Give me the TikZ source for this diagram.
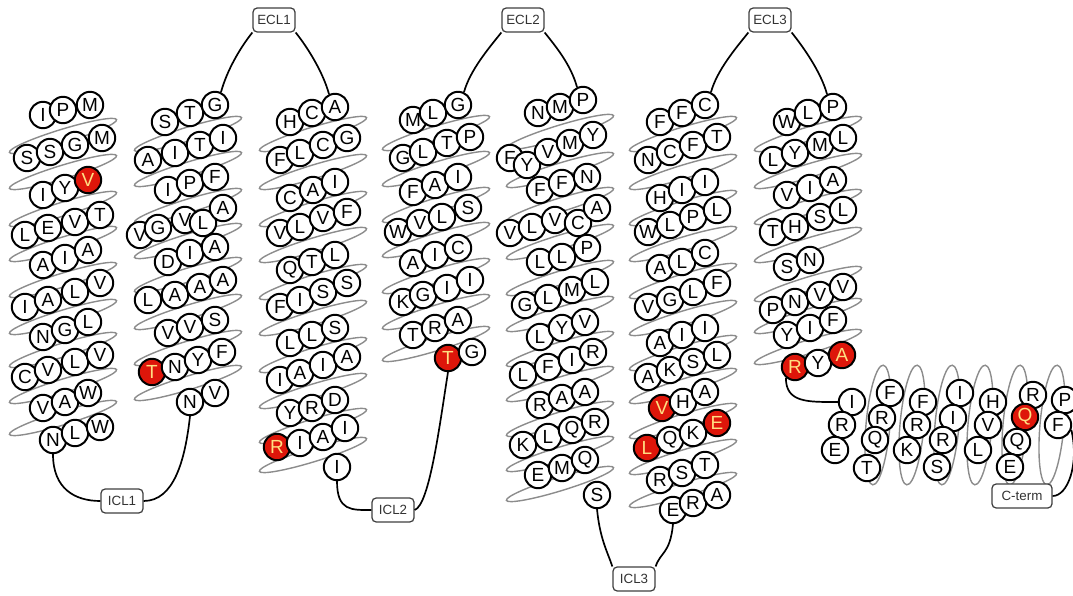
\documentclass[tikz,border=0pt]{standalone}
\usepackage{fontspec}
\setmainfont{Liberation Sans}
\usepackage{tikz}
\definecolor{hitred}{RGB}{222,22,10}
\definecolor{hittext}{RGB}{255,222,130}
\newcommand{\resfont}{\fontsize{13.5}{13.5}\selectfont}
\newcommand{\loopfont}{\fontsize{9.5}{9.5}\selectfont}

\begin{document}
\begin{tikzpicture}[x=0.025cm, y=-0.025cm,
        res/.style={circle, draw, line width=1.4pt, fill=white, minimum size=0.66cm, inner sep=0pt, font=\resfont},
        hit/.style={res, fill=hitred, text=hittext},
        turn/.style={draw=black!45, line width=1pt, x radius=1.4cm, y radius=0.17cm},
        tallturn/.style={draw=black!45, line width=1pt, x radius=0.3cm, y radius=1.5cm},
        lbox/.style={rectangle, rounded corners=3pt, draw=black!75, line width=0.9pt, fill=white, minimum width=1.05cm, minimum height=0.6cm, inner sep=1pt, font=\loopfont, text=black!80},
        link/.style={line width=1.2pt}
    ]
        \useasboundingbox (0,0) rectangle (1073,596);
        % Helix turns (behind residues)
        \foreach \y in {136,172,209,244,280,317,350,386,418}
            \draw[turn, rotate around={17:(63,\y)}] (63,\y) circle;
        \foreach \y in {134,169,206,241,275,312,348,383}
            \draw[turn, rotate around={17:(188,\y)}] (188,\y) circle;
        \foreach \y in {134,172,209,245,282,318,355,391,426,455}
            \draw[turn, rotate around={17:(313,\y)}] (313,\y) circle;
        \foreach \y in {133,169,205,240,276,312,344}
            \draw[turn, rotate around={17:(436,\y)}] (436,\y) circle;
        \foreach \y in {132,170,205,242,278,314,349,384,419,454,484}
            \draw[turn, rotate around={17:(560,\y)}] (560,\y) circle;
        \foreach \y in {134,172,208,244,281,318,353,386,421,457,490}
            \draw[turn, rotate around={17:(683,\y)}] (683,\y) circle;
        \foreach \y in {134,171,207,245,284,316,347}
            \draw[turn, rotate around={17:(808,\y)}] (808,\y) circle;
        \foreach \x in {878,912,947,980,1015,1052}
            \draw[tallturn, rotate around={-5:(\x,425)}] (\x,425) circle;
        % Loop labels
        \node[lbox] (icl1) at (122,501) {ICL1};
        \node[lbox] (ecl1) at (274,20) {ECL1};
        \node[lbox] (icl2) at (393,510) {ICL2};
        \node[lbox] (ecl2) at (523,20) {ECL2};
        \node[lbox] (icl3) at (634,579) {ICL3};
        \node[lbox] (ecl3) at (770,20) {ECL3};
        \node[lbox, minimum width=1.5cm] (cterm) at (1022,496) {C-term};
        % TM1
        \node[res] (a1) at (43,115) {I}; \node[res] (a2) at (63,110) {P}; \node[res] (a3) at (90,105) {M};
        \node[res] (a4) at (27,158) {S}; \node[res] (a5) at (50,152) {S}; \node[res] (a6) at (75,145) {G}; \node[res] (a7) at (102,138) {M};
        \node[res] (a8) at (43,195) {I}; \node[res] (a9) at (65,188) {Y}; \node[hit] (a10) at (88,180) {V};
        \node[res] (a11) at (25,235) {L}; \node[res] (a12) at (48,228) {E}; \node[res] (a13) at (75,222) {V}; \node[res] (a14) at (100,215) {T};
        \node[res] (a15) at (43,265) {A}; \node[res] (a16) at (65,258) {I}; \node[res] (a17) at (88,250) {A};
        \node[res] (a18) at (25,307) {I}; \node[res] (a19) at (48,300) {A}; \node[res] (a20) at (75,292) {L}; \node[res] (a21) at (100,283) {V};
        \node[res] (a22) at (43,337) {N}; \node[res] (a23) at (65,330) {G}; \node[res] (a24) at (88,322) {L};
        \node[res] (a25) at (25,377) {C}; \node[res] (a26) at (48,370) {V}; \node[res] (a27) at (75,362) {L}; \node[res] (a28) at (100,355) {V};
        \node[res] (a29) at (43,408) {V}; \node[res] (a30) at (65,402) {A}; \node[res] (a31) at (88,393) {W};
        \node[res] (a32) at (53,440) {N}; \node[res] (a33) at (75,433) {L}; \node[res] (a34) at (100,427) {W};
        % TM2
        \node[res] (b1) at (165,122) {S}; \node[res] (b2) at (190,113) {T}; \node[res] (b3) at (215,105) {G};
        \node[res] (b4) at (148,160) {A}; \node[res] (b5) at (175,153) {I}; \node[res] (b6) at (200,145) {T}; \node[res] (b7) at (223,138) {I};
        \node[res] (b8) at (168,190) {I}; \node[res] (b9) at (190,183) {P}; \node[res] (b10) at (215,177) {F};
        \node[res] (b11) at (140,235) {V}; \node[res] (b12) at (158,228) {G}; \node[res] (b13) at (185,220) {V}; \node[res] (b14) at (203,223) {L}; \node[res] (b15) at (223,208) {A};
        \node[res] (b16) at (168,262) {D}; \node[res] (b17) at (190,253) {I}; \node[res] (b18) at (215,247) {A};
        \node[res] (b19) at (148,300) {L}; \node[res] (b20) at (175,295) {A}; \node[res] (b21) at (200,287) {A}; \node[res] (b22) at (223,280) {A};
        \node[res] (b23) at (168,333) {V}; \node[res] (b24) at (190,327) {V}; \node[res] (b25) at (215,320) {S};
        \node[hit] (b26) at (152,372) {T}; \node[res] (b27) at (175,367) {N}; \node[res] (b28) at (198,360) {Y}; \node[res] (b29) at (222,352) {F};
        \node[res] (b30) at (190,402) {N}; \node[res] (b31) at (215,393) {V};
        % TM3
        \node[res] (c1) at (290,122) {H}; \node[res] (c2) at (312,113) {C}; \node[res] (c3) at (335,107) {A};
        \node[res] (c4) at (280,160) {F}; \node[res] (c5) at (300,153) {L}; \node[res] (c6) at (323,145) {C}; \node[res] (c7) at (347,138) {G};
        \node[res] (c8) at (290,198) {C}; \node[res] (c9) at (313,190) {A}; \node[res] (c10) at (335,182) {I};
        \node[res] (c11) at (280,233) {V}; \node[res] (c12) at (300,227) {L}; \node[res] (c13) at (323,218) {V}; \node[res] (c14) at (347,212) {F};
        \node[res] (c15) at (290,270) {Q}; \node[res] (c16) at (312,262) {T}; \node[res] (c17) at (335,255) {L};
        \node[res] (c18) at (280,307) {F}; \node[res] (c19) at (300,300) {I}; \node[res] (c20) at (323,292) {S}; \node[res] (c21) at (347,283) {S};
        \node[res] (c22) at (290,343) {L}; \node[res] (c23) at (312,335) {L}; \node[res] (c24) at (335,328) {S};
        \node[res] (c25) at (280,380) {I}; \node[res] (c26) at (300,373) {A}; \node[res] (c27) at (323,365) {I}; \node[res] (c28) at (347,357) {A};
        \node[res] (c29) at (290,413) {Y}; \node[res] (c30) at (312,408) {R}; \node[res] (c31) at (335,400) {D};
        \node[hit] (c32) at (277,447) {R}; \node[res] (c33) at (300,443) {I}; \node[res] (c34) at (323,437) {A}; \node[res] (c35) at (345,428) {I};
        \node[res] (c36) at (337,467) {I};
        % TM4
        \node[res] (d1) at (413,120) {M}; \node[res] (d2) at (433,113) {L}; \node[res] (d3) at (458,105) {G};
        \node[res] (d4) at (403,158) {G}; \node[res] (d5) at (423,152) {L}; \node[res] (d6) at (447,143) {T}; \node[res] (d7) at (470,137) {P};
        \node[res] (d8) at (413,192) {F}; \node[res] (d9) at (435,185) {A}; \node[res] (d10) at (458,177) {I};
        \node[res] (d11) at (398,232) {W}; \node[res] (d12) at (420,223) {V}; \node[res] (d13) at (442,217) {L}; \node[res] (d14) at (468,208) {S};
        \node[res] (d15) at (413,263) {A}; \node[res] (d16) at (435,255) {I}; \node[res] (d17) at (458,248) {C};
        \node[res] (d18) at (403,302) {K}; \node[res] (d19) at (423,295) {G}; \node[res] (d20) at (447,288) {I}; \node[res] (d21) at (470,280) {I};
        \node[res] (d22) at (413,335) {T}; \node[res] (d23) at (435,328) {R}; \node[res] (d24) at (458,320) {A};
        \node[hit] (d25) at (448,358) {T}; \node[res] (d26) at (472,352) {G};
        % TM5
        \node[res] (e1) at (538,113) {N}; \node[res] (e2) at (560,107) {M}; \node[res] (e3) at (583,100) {P};
        \node[res] (e4) at (510,158) {F}; \node[res] (e5) at (527,165) {Y}; \node[res] (e6) at (548,152) {V}; \node[res] (e7) at (570,143) {M}; \node[res] (e8) at (593,135) {Y};
        \node[res] (e9) at (540,190) {F}; \node[res] (e10) at (562,183) {F}; \node[res] (e11) at (587,177) {N};
        \node[res] (e12) at (510,233) {V}; \node[res] (e13) at (532,227) {L}; \node[res] (e14) at (555,220) {V}; \node[res] (e15) at (578,223) {C}; \node[res] (e16) at (597,208) {A};
        \node[res] (e17) at (540,262) {L}; \node[res] (e18) at (562,257) {L}; \node[res] (e19) at (587,248) {P};
        \node[res] (e20) at (525,305) {G}; \node[res] (e21) at (548,298) {L}; \node[res] (e22) at (572,290) {M}; \node[res] (e23) at (595,282) {L};
        \node[res] (e24) at (540,337) {L}; \node[res] (e25) at (562,328) {Y}; \node[res] (e26) at (585,322) {V};
        \node[res] (e27) at (523,375) {L}; \node[res] (e28) at (548,367) {F}; \node[res] (e29) at (572,360) {I}; \node[res] (e30) at (593,352) {R};
        \node[res] (e31) at (540,405) {R}; \node[res] (e32) at (562,398) {A}; \node[res] (e33) at (585,392) {A};
        \node[res] (e34) at (523,445) {K}; \node[res] (e35) at (548,437) {L}; \node[res] (e36) at (572,430) {Q}; \node[res] (e37) at (595,422) {R};
        \node[res] (e38) at (538,475) {E}; \node[res] (e39) at (562,468) {M}; \node[res] (e40) at (585,460) {Q};
        \node[res] (e41) at (597,495) {S};
        % TM6
        \node[res] (f1) at (660,122) {F}; \node[res] (f2) at (682,113) {F}; \node[res] (f3) at (705,105) {C};
        \node[res] (f4) at (648,160) {N}; \node[res] (f5) at (670,152) {C}; \node[res] (f6) at (693,145) {F}; \node[res] (f7) at (717,137) {T};
        \node[res] (f8) at (660,198) {H}; \node[res] (f9) at (682,190) {I}; \node[res] (f10) at (705,182) {I};
        \node[res] (f11) at (648,232) {W}; \node[res] (f12) at (670,225) {L}; \node[res] (f13) at (693,217) {P}; \node[res] (f14) at (717,210) {L};
        \node[res] (f15) at (660,268) {A}; \node[res] (f16) at (682,262) {L}; \node[res] (f17) at (705,253) {C};
        \node[res] (f18) at (648,307) {V}; \node[res] (f19) at (670,300) {G}; \node[res] (f20) at (693,292) {L}; \node[res] (f21) at (717,283) {F};
        \node[res] (f22) at (660,343) {A}; \node[res] (f23) at (682,335) {I}; \node[res] (f24) at (705,328) {I};
        \node[res] (f25) at (648,377) {A}; \node[res] (f26) at (670,370) {K}; \node[res] (f27) at (693,362) {S}; \node[res] (f28) at (717,355) {L};
        \node[hit] (f29) at (662,408) {V}; \node[res] (f30) at (683,402) {H}; \node[res] (f31) at (705,392) {A};
        \node[hit] (f32) at (647,448) {L}; \node[res] (f33) at (670,440) {Q}; \node[res] (f34) at (693,433) {K}; \node[hit] (f35) at (717,423) {E};
        \node[res] (f36) at (660,480) {R}; \node[res] (f37) at (682,473) {S}; \node[res] (f38) at (705,465) {T};
        \node[res] (f39) at (673,510) {E}; \node[res] (f40) at (693,503) {R}; \node[res] (f41) at (717,495) {A};
        % TM7
        \node[res] (g1) at (787,122) {W}; \node[res] (g2) at (808,113) {L}; \node[res] (g3) at (833,107) {P};
        \node[res] (g4) at (773,160) {L}; \node[res] (g5) at (795,153) {Y}; \node[res] (g6) at (820,145) {M}; \node[res] (g7) at (843,138) {L};
        \node[res] (g8) at (787,195) {V}; \node[res] (g9) at (810,188) {I}; \node[res] (g10) at (833,180) {A};
        \node[res] (g11) at (773,232) {T}; \node[res] (g12) at (795,227) {H}; \node[res] (g13) at (820,217) {S}; \node[res] (g14) at (843,210) {L};
        \node[res] (g15) at (787,267) {S}; \node[res] (g16) at (810,260) {N};
        \node[res] (g17) at (773,310) {P}; \node[res] (g18) at (795,302) {N}; \node[res] (g19) at (820,295) {V}; \node[res] (g20) at (843,287) {V};
        \node[res] (g21) at (787,335) {Y}; \node[res] (g22) at (810,328) {I}; \node[res] (g23) at (833,320) {F};
        \node[hit] (g24) at (795,367) {R}; \node[res] (g25) at (818,363) {Y}; \node[hit] (g26) at (842,355) {A};
        % H8
        \node[res] (h1) at (852,402) {I}; \node[res] (h2) at (890,393) {F}; \node[res] (h3) at (923,402) {F}; \node[res] (h4) at (960,393) {I}; \node[res] (h5) at (993,402) {H}; \node[res] (h6) at (1033,395) {R}; \node[res] (h7) at (1065,400) {P};
        \node[res] (h8) at (842,425) {R}; \node[res] (h9) at (882,418) {R}; \node[res] (h10) at (917,425) {R}; \node[res] (h11) at (953,418) {I}; \node[res] (h12) at (988,425) {V}; \node[hit] (h13) at (1025,417) {Q}; \node[res] (h14) at (1058,425) {F};
        \node[res] (h15) at (835,450) {E}; \node[res] (h16) at (875,440) {Q}; \node[res] (h17) at (907,450) {K}; \node[res] (h18) at (943,440) {R}; \node[res] (h19) at (978,450) {L}; \node[res] (h20) at (1017,442) {Q};
        \node[res] (h21) at (867,468) {T}; \node[res] (h22) at (937,467) {S}; \node[res] (h23) at (1010,467) {E};
        % Loops
        \draw[link] (a32.south) .. controls +(0,35) and +(-25,0) .. (icl1.west);
        \draw[link] (icl1.east) .. controls +(30,0) and +(-5,45) .. (b30.south);
        \draw[link] (b3.65) .. controls +(6,-22) and +(-12,15) .. (ecl1.-150);
        \draw[link] (ecl1.-30) .. controls +(12,15) and +(-6,-22) .. (c3.115);
        \draw[link] (c36.south) .. controls +(0,30) and +(-20,0) .. (icl2.west);
        \draw[link] (icl2.east) .. controls +(15,-5) and +(-8,50) .. (d25.south);
        \draw[link] (d3.65) .. controls +(6,-22) and +(-12,15) .. (ecl2.-150);
        \draw[link] (ecl2.-30) .. controls +(12,15) and +(-6,-22) .. (e3.115);
        \draw[link] (e41.south) .. controls +(3,30) and +(-5,-15) .. (icl3.150);
        \draw[link] (icl3.30) .. controls +(5,-15) and +(-3,30) .. (f39.south);
        \draw[link] (f3.65) .. controls +(6,-22) and +(-12,15) .. (ecl3.-150);
        \draw[link] (ecl3.-30) .. controls +(12,15) and +(-6,-22) .. (g3.115);
        \draw[link] (g24.230) .. controls +(0,25) and +(-30,0) .. (h1.west);
        \draw[link] (h14.-20) .. controls +(8,35) and +(15,0) .. (cterm.east);
    \end{tikzpicture}
\end{document}
